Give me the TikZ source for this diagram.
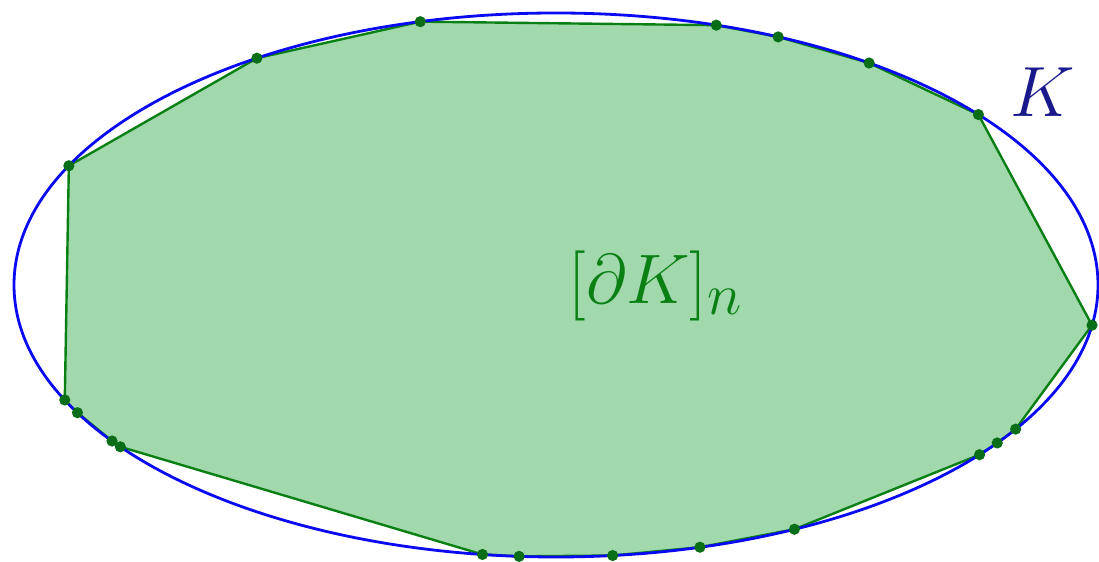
\documentclass[tikz,border=0pt]{standalone}
\usepackage{amsmath}
\definecolor{polyfill}{RGB}{161,217,172}
\definecolor{polyline}{RGB}{10,128,20}
\definecolor{dotgreen}{RGB}{10,110,25}
\definecolor{ellblue}{RGB}{10,10,240}
\definecolor{labblue}{RGB}{25,25,140}
\begin{document}
\begin{tikzpicture}[x=0.5pt, y=0.5pt, line join=round]
				\useasboundingbox (0,0) rectangle (1099,562);
				% Tâm và các bán trục của elip K
				\coordinate (O) at (556,277);
				% Các đỉnh của đa giác nằm trên biên của K (theo góc tham số)
				\foreach \t [count=\i] in {154,123.5,104.5,72.8,65.8,54.7,38.8,-8.5,-32,-35.5,-38.6,-63.9,-74.6,-84,-93.9,-97.8,-143.5,-145,-152,-155}
					\coordinate (P\i) at ({556+542*cos(\t)},{277+272*sin(\t)});
				
				% Đa giác [dK]_n
				\filldraw[fill=polyfill, draw=polyline, line width=1.2pt]
					(P1) -- (P2) -- (P3) -- (P4) -- (P5) -- (P6) -- (P7) -- (P8) -- (P9) -- (P10)
					-- (P11) -- (P12) -- (P13) -- (P14) -- (P15) -- (P16) -- (P17) -- (P18) -- (P19) -- (P20) -- cycle;
				
				% Elip K
				\draw[ellblue, line width=1.4pt] (O) ellipse [x radius=271pt, y radius=136pt];
				
				% Các điểm trên biên
				\foreach \i in {1,...,20}
					\fill[dotgreen] (P\i) circle (2.8pt);
				
				\node[polyline, font=\Huge, scale=1.41] (poly) at (656,276) {$[\partial K]_n$};
				\node[labblue, font=\Huge, scale=1.43] (K) at (1043,470) {$K$};
			\end{tikzpicture}
\end{document}
